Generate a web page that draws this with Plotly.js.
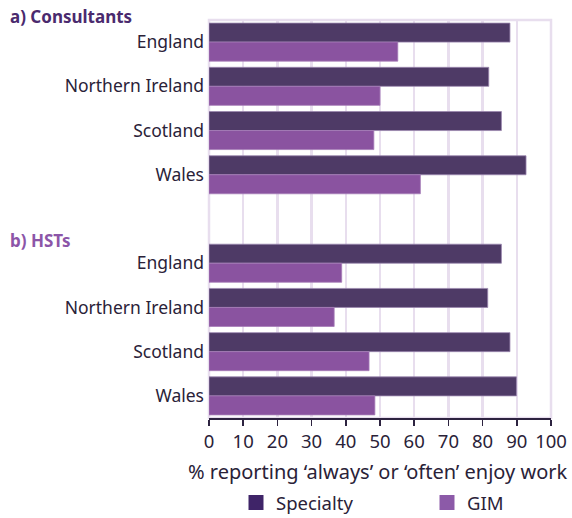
<!DOCTYPE html>
<html>
<head>
<meta charset="utf-8">
<script src="https://cdn.plot.ly/plotly-3.0.1.min.js"></script>
<style>html,body{margin:0;padding:0;background:#fff;}#chart{width:572px;height:518px;}</style>
</head>
<body>
<div id="chart"></div>
<script>
// ---- data ----
var countries = ["England", "Northern Ireland", "Scotland", "Wales"];
var consultantsSpecialty = [88.0, 81.8, 85.5, 92.7];
var consultantsGIM = [55.2, 50.0, 48.2, 61.8];
var hstSpecialty = [85.5, 81.5, 88.0, 89.9];
var hstGIM = [38.8, 36.6, 46.8, 48.5];
var xTicks = [0, 10, 20, 30, 40, 50, 60, 70, 80, 90, 100];
var panelLabels = ["a) Consultants", "b) HSTs"];
var seriesNames = ["Specialty", "GIM"];
var xTitle = "% reporting ‘always’ or ‘often’ enjoy work";

// ---- category ids (unique per panel) ----
var idsA = countries.map(function (c) { return "a|" + c; });
var idsB = countries.map(function (c) { return "b|" + c; });
var gapId = "gap";
var catOrder = idsA.concat([gapId], idsB);
var catText = countries.concat([""], countries);

var colSpec = "#4e3a66";
var colGIM = "#8a53a0";
var legSpec = "#3f2468";
var legGIM = "#8c5aa8";
var font = "Noto Sans, Open Sans, sans-serif";
var textCol = "#2a2238";
var W = 572, H = 518;
var plotW = 342, plotH = 398, ml = 209, mt = 20;

var traces = [
  {type: "bar", orientation: "h", name: seriesNames[0],
   y: idsA.concat(idsB), x: consultantsSpecialty.concat(hstSpecialty),
   marker: {color: colSpec, line: {color: "#9a86ae", width: 0.8}},
   showlegend: false, hoverinfo: "skip"},
  {type: "bar", orientation: "h", name: seriesNames[1],
   y: idsA.concat(idsB), x: consultantsGIM.concat(hstGIM),
   marker: {color: colGIM, line: {color: "#a67cb8", width: 0.8}},
   showlegend: false, hoverinfo: "skip"},
  // legend keys
  {type: "scatter", mode: "markers", name: seriesNames[0], x: [null], y: [null],
   marker: {symbol: "square", size: 15, color: legSpec, line: {width: 0}},
   legend: "legend", showlegend: true, hoverinfo: "skip"},
  {type: "scatter", mode: "markers", name: seriesNames[1], x: [null], y: [null],
   marker: {symbol: "square", size: 15, color: legGIM, line: {width: 0}},
   legend: "legend2", showlegend: true, hoverinfo: "skip"}
];

function px2paperX(px) { return (px - ml) / plotW; }
function px2paperY(py) { return (mt + plotH - py) / plotH; }
function legendAt(leftPx, midPy) {
  return {orientation: "h", xref: "container", yref: "container",
          x: leftPx / W, xanchor: "left", y: 1 - midPy / H, yanchor: "middle",
          font: {family: font, size: 18.5, color: textCol},
          itemclick: false, bgcolor: "rgba(0,0,0,0)", borderwidth: 0};
}

var layout = {
  width: W, height: H,
  margin: {l: ml, r: W - ml - plotW, t: mt, b: H - mt - plotH},
  paper_bgcolor: "#ffffff", plot_bgcolor: "#ffffff",
  font: {family: font, size: 16, color: textCol},
  barmode: "group", bargap: 0.14, bargroupgap: 0,
  showlegend: true,
  legend: legendAt(236, 503),
  legend2: legendAt(427, 503),
  xaxis: {range: [0, 100], tickvals: xTicks, ticktext: xTicks.map(String),
          showgrid: true, gridcolor: "#e8deee", gridwidth: 2.5,
          zeroline: false, showline: true, linecolor: "#2d2340", linewidth: 2,
          ticks: "outside", ticklen: 6, tickwidth: 1.5, tickcolor: "#2d2340",
          tickfont: {family: font, size: 18.5, color: textCol},
          fixedrange: true},
  yaxis: {type: "category", categoryorder: "array", categoryarray: catOrder,
          tickvals: catOrder, ticktext: catText,
          autorange: false, range: [catOrder.length - 0.5, -0.5],
          showgrid: false, zeroline: false, showline: false,
          ticks: "", ticklen: 0, ticklabelstandoff: 4,
          tickfont: {family: font, size: 17.5, color: textCol},
          fixedrange: true},
  shapes: [
    {type: "rect", xref: "paper", yref: "paper", x0: 0, x1: 1, y0: 0, y1: 1,
     line: {color: "#e8deee", width: 2.5}, fillcolor: "rgba(0,0,0,0)", layer: "below"}
  ],
  annotations: [
    {text: "<b>" + panelLabels[0] + "</b>", xref: "paper", yref: "y",
     x: px2paperX(8), y: idsA[0], yshift: 26, xanchor: "left", yanchor: "middle",
     showarrow: false, font: {family: font, size: 17, color: "#4a2a6e"}},
    {text: "<b>" + panelLabels[1] + "</b>", xref: "paper", yref: "y",
     x: px2paperX(8), y: idsB[0], yshift: 23, xanchor: "left", yanchor: "middle",
     showarrow: false, font: {family: font, size: 17, color: "#8c55a8"}},
    {text: xTitle, xref: "paper", yref: "paper",
     x: px2paperX(378), y: px2paperY(471), xanchor: "center", yanchor: "middle",
     showarrow: false, font: {family: font, size: 20, color: textCol}}
  ]
};

Plotly.newPlot("chart", traces, layout, {displayModeBar: false, staticPlot: true});
</script>
</body>
</html>
